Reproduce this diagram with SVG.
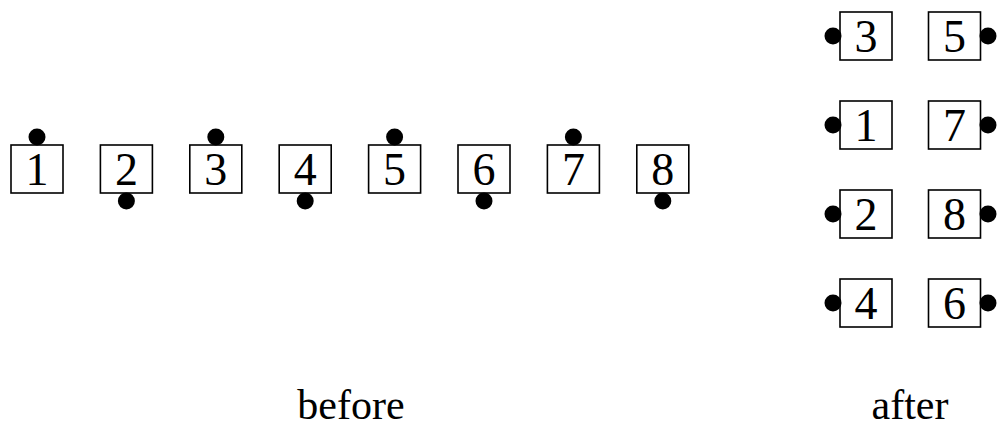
<svg xmlns="http://www.w3.org/2000/svg" width="1007" height="434" viewBox="0 0 1007 434">
<style>
.b{fill:#fff;stroke:#000;stroke-width:1.6}
.d{fill:#000}
.t{font-family:"Liberation Serif","DejaVu Serif",serif;font-size:46px;text-anchor:middle;fill:#000}
.l{font-family:"Liberation Serif","DejaVu Serif",serif;font-size:42px;text-anchor:middle;fill:#000}
</style>
<g id="before">
<g id="b1"><rect class="b" x="11" y="145" width="52" height="48"/><text class="t" x="37" y="185">1</text><circle class="d" cx="37" cy="137" r="8.5"/></g>
<g id="b2"><rect class="b" x="100.4" y="145" width="52" height="48"/><text class="t" x="126.4" y="185">2</text><circle class="d" cx="126.4" cy="201" r="8.5"/></g>
<g id="b3"><rect class="b" x="189.8" y="145" width="52" height="48"/><text class="t" x="215.8" y="185">3</text><circle class="d" cx="215.8" cy="137" r="8.5"/></g>
<g id="b4"><rect class="b" x="279.2" y="145" width="52" height="48"/><text class="t" x="305.2" y="185">4</text><circle class="d" cx="305.2" cy="201" r="8.5"/></g>
<g id="b5"><rect class="b" x="368.6" y="145" width="52" height="48"/><text class="t" x="394.6" y="185">5</text><circle class="d" cx="394.6" cy="137" r="8.5"/></g>
<g id="b6"><rect class="b" x="458" y="145" width="52" height="48"/><text class="t" x="484" y="185">6</text><circle class="d" cx="484" cy="201" r="8.5"/></g>
<g id="b7"><rect class="b" x="547.4" y="145" width="52" height="48"/><text class="t" x="573.4" y="185">7</text><circle class="d" cx="573.4" cy="137" r="8.5"/></g>
<g id="b8"><rect class="b" x="636.8" y="145" width="52" height="48"/><text class="t" x="662.8" y="185">8</text><circle class="d" cx="662.8" cy="201" r="8.5"/></g>
</g>
<g id="after">
<g id="a3"><rect class="b" x="840" y="12" width="52" height="48"/><text class="t" x="866" y="52">3</text><circle class="d" cx="833" cy="36" r="8.5"/></g>
<g id="a5"><rect class="b" x="928.5" y="12" width="52" height="48"/><text class="t" x="954.5" y="52">5</text><circle class="d" cx="988" cy="36" r="8.5"/></g>
<g id="a1"><rect class="b" x="840" y="101" width="52" height="48"/><text class="t" x="866" y="141">1</text><circle class="d" cx="833" cy="125" r="8.5"/></g>
<g id="a7"><rect class="b" x="928.5" y="101" width="52" height="48"/><text class="t" x="954.5" y="141">7</text><circle class="d" cx="988" cy="125" r="8.5"/></g>
<g id="a2"><rect class="b" x="840" y="190" width="52" height="48"/><text class="t" x="866" y="230">2</text><circle class="d" cx="833" cy="214" r="8.5"/></g>
<g id="a8"><rect class="b" x="928.5" y="190" width="52" height="48"/><text class="t" x="954.5" y="230">8</text><circle class="d" cx="988" cy="214" r="8.5"/></g>
<g id="a4"><rect class="b" x="840" y="279" width="52" height="48"/><text class="t" x="866" y="319">4</text><circle class="d" cx="833" cy="303" r="8.5"/></g>
<g id="a6"><rect class="b" x="928.5" y="279" width="52" height="48"/><text class="t" x="954.5" y="319">6</text><circle class="d" cx="988" cy="303" r="8.5"/></g>
</g>
<g id="connectors"></g>
<text class="l" x="351" y="419">before</text>
<text class="l" x="910" y="419">after</text>
</svg>
